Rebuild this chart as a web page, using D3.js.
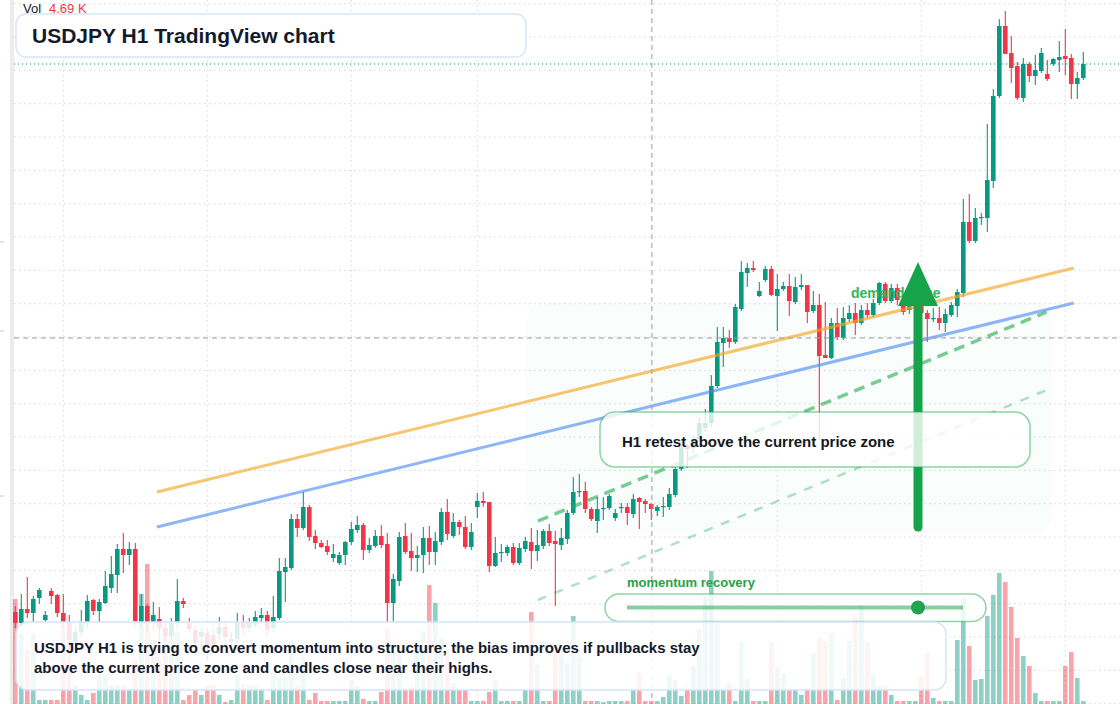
<!DOCTYPE html>
<html><head><meta charset="utf-8">
<script src="https://cdn.jsdelivr.net/npm/d3@7"></script>
<style>body{margin:0;background:#fff;}svg{display:block;font-family:"Liberation Sans",Arial,sans-serif;}</style>
</head><body><svg id="c" width="1120" height="704"></svg>
<script>
// ---- data (USDJPY H1) ----
const openP=[156.388,156.377,156.391,156.387,156.402,156.380,156.409,156.405,156.387,156.378,
156.358,156.368,156.378,156.400,156.389,156.397,156.412,156.425,156.451,156.445,
156.451,156.377,156.394,156.378,156.381,156.372,156.364,156.377,156.399,156.378,
156.370,156.363,156.367,156.365,156.366,156.373,156.358,156.361,156.378,156.372,
156.375,156.382,156.385,156.372,156.382,156.428,156.432,156.481,156.472,156.493,
156.464,156.457,156.454,156.442,156.437,156.445,156.458,156.470,156.475,156.450,
156.454,156.464,156.456,156.397,156.419,156.464,156.449,156.442,156.445,156.462,
156.448,156.458,156.488,156.464,156.478,156.473,156.453,156.493,156.499,156.498,
156.434,156.447,156.447,156.453,156.437,156.451,156.458,156.449,156.454,156.469,
156.459,156.455,156.461,156.487,156.508,156.509,156.491,156.479,156.491,156.492,
156.482,156.492,156.493,156.486,156.502,156.499,156.496,156.489,156.493,156.493,
156.505,156.531,156.554,156.552,156.561,156.572,156.577,156.614,156.657,156.662,
156.658,156.691,156.727,156.732,156.704,156.720,156.731,156.704,156.711,156.714,
156.698,156.713,156.715,156.689,156.695,156.645,156.642,156.677,156.662,156.681,
156.687,156.677,156.690,156.685,156.697,156.716,156.699,156.712,156.700,156.690,
156.694,156.700,156.687,156.681,156.682,156.677,156.685,156.694,156.707,156.778,
156.759,156.782,156.782,156.819,156.904,156.974,156.947,156.934,156.902,156.936,
156.924,156.929,156.926,156.936,156.940,156.944,156.942,156.916,156.922];
const highP=[156.394,156.406,156.423,156.404,156.412,156.389,156.412,156.406,156.406,156.385,
156.372,156.390,156.405,156.401,156.401,156.429,156.444,156.456,156.467,156.458,
156.457,156.406,156.396,156.398,156.393,156.378,156.382,156.421,156.402,156.382,
156.375,156.372,156.372,156.370,156.383,156.378,156.368,156.387,156.385,156.382,
156.389,156.392,156.389,156.404,156.442,156.442,156.486,156.486,156.508,156.495,
156.470,156.460,156.460,156.456,156.448,156.459,156.478,156.484,156.477,156.462,
156.470,156.475,156.467,156.426,156.468,156.477,156.467,156.454,156.473,156.474,
156.468,156.492,156.501,156.487,156.480,156.484,156.477,156.507,156.508,156.498,
156.463,156.456,156.455,156.457,156.457,156.463,156.472,156.470,156.471,156.476,
156.469,156.472,156.490,156.523,156.526,156.518,156.493,156.503,156.503,156.506,
156.491,156.497,156.497,156.506,156.503,156.501,156.497,156.495,156.503,156.512,
156.533,156.560,156.556,156.564,156.582,156.591,156.625,156.673,156.673,156.670,
156.696,156.739,156.737,156.739,156.718,156.734,156.734,156.726,156.718,156.726,
156.723,156.726,156.715,156.709,156.706,156.698,156.682,156.692,156.693,156.695,
156.697,156.695,156.697,156.701,156.718,156.718,156.716,156.716,156.704,156.700,
156.704,156.704,156.690,156.692,156.693,156.691,156.698,156.711,156.801,156.806,
156.792,156.787,156.876,156.911,156.981,156.989,156.964,156.938,156.942,156.938,
156.945,156.952,156.940,156.942,156.959,156.971,156.946,156.928,156.948];
const lowP=[156.372,156.374,156.382,156.377,156.396,156.376,156.396,156.383,156.372,156.345,
156.350,156.364,156.372,156.385,156.378,156.396,156.407,156.407,156.427,156.435,
156.374,156.372,156.368,156.370,156.360,156.355,156.360,156.372,156.392,156.367,
156.345,156.350,156.340,156.348,156.360,156.355,156.350,156.355,156.365,156.368,
156.372,156.378,156.364,156.368,156.380,156.398,156.430,156.463,156.470,156.459,
156.451,156.452,156.445,156.438,156.435,156.435,156.455,156.467,156.440,156.447,
156.452,156.452,156.378,156.378,156.414,156.446,156.429,156.428,156.427,156.435,
156.435,156.455,156.460,156.462,156.465,156.451,156.450,156.482,156.493,156.428,
156.433,156.438,156.444,156.435,156.435,156.448,156.431,156.439,156.451,156.454,
156.394,156.450,156.456,156.485,156.503,156.487,156.479,156.467,156.480,156.490,
156.479,156.487,156.475,156.482,156.471,156.487,156.480,156.484,156.483,156.490,
156.503,156.529,156.532,156.548,156.558,156.568,156.573,156.612,156.633,156.652,
156.656,156.689,156.713,156.728,156.703,156.718,156.704,156.669,156.709,156.684,
156.696,156.710,156.677,156.687,156.560,156.642,156.641,156.660,156.660,156.678,
156.665,156.675,156.682,156.683,156.695,156.697,156.697,156.695,156.685,156.686,
156.688,156.682,156.658,156.678,156.670,156.668,156.683,156.683,156.703,156.757,
156.757,156.775,156.768,156.812,156.902,156.946,156.917,156.900,156.898,156.918,
156.915,156.927,156.919,156.934,156.928,156.925,156.901,156.901,156.920];
const closeP=[156.377,156.391,156.387,156.401,156.410,156.385,156.404,156.387,156.378,156.360,
156.368,156.378,156.399,156.389,156.398,156.414,156.426,156.451,156.445,156.451,
156.379,156.394,156.377,156.385,156.372,156.364,156.377,156.399,156.396,156.371,
156.357,156.368,156.352,156.355,156.373,156.363,156.361,156.378,156.372,156.378,
156.383,156.385,156.370,156.383,156.429,156.433,156.481,156.472,156.493,156.463,
156.457,156.453,156.448,156.446,156.445,156.458,156.471,156.475,156.450,156.455,
156.464,156.455,156.397,156.421,156.463,156.448,156.442,156.445,156.462,156.448,
156.459,156.488,156.466,156.478,156.473,156.453,156.468,156.499,156.497,156.434,
156.447,156.448,156.453,156.437,156.452,156.459,156.449,156.455,156.469,156.457,
156.456,156.462,156.487,156.508,156.509,156.491,156.481,156.491,156.492,156.504,
156.487,156.493,156.487,156.501,156.498,156.496,156.491,156.493,156.494,156.506,
156.531,156.553,156.551,156.561,156.577,156.577,156.614,156.658,156.662,156.658,
156.693,156.728,156.732,156.730,156.709,156.731,156.705,156.711,156.714,156.699,
156.713,156.715,156.688,156.695,156.644,156.642,156.677,156.663,156.682,156.687,
156.677,156.690,156.685,156.697,156.717,156.699,156.712,156.700,156.688,156.694,
156.700,156.687,156.681,156.682,156.677,156.686,156.695,156.708,156.778,156.759,
156.782,156.783,156.820,156.904,156.974,156.946,156.932,156.902,156.936,156.924,
156.930,156.947,156.921,156.941,156.943,156.941,156.916,156.922,156.936];
const volumeK=[10.5,7.0,5.4,7.0,0.4,0.4,0.4,0.4,7.9,7.3,
1.9,0.9,0.4,1.1,2.9,2.9,1.9,1.9,1.9,1.4,
4.4,11.0,14.0,6.4,4.4,7.6,7.4,7.2,0.4,0.9,
1.4,0.9,1.9,1.9,0.9,0.2,0.4,2.9,1.9,1.9,
1.9,1.5,0.4,3.1,2.6,2.6,6.2,1.9,4.7,0.4,
1.1,0.3,0.3,0.3,0.3,0.3,2.4,1.8,0.5,0.3,
0.3,1.2,7.6,5.2,4.9,1.5,1.7,6.4,7.3,11.9,
10.1,6.6,4.9,2.1,1.4,1.4,0.3,0.3,0.3,1.2,
2.4,0.3,0.3,0.3,0.3,1.4,9.2,3.9,0.3,0.3,
5.1,5.0,4.1,8.8,4.7,0.3,0.3,0.3,0.2,0.3,
0.3,0.3,0.3,1.4,3.1,0.3,0.3,0.3,0.7,2.9,
2.4,0.8,1.7,3.8,7.4,10.7,13.3,8.1,1.4,2.1,
0.3,6.2,2.5,0.3,0.3,0.3,6.2,3.7,3.0,1.7,
1.4,0.9,1.6,5.1,6.6,6.2,7.1,0.4,2.6,6.3,
8.7,9.9,6.2,3.0,1.8,1.8,0.9,0.3,0.3,0.3,
0.3,2.8,5.1,0.6,0.3,0.3,0.3,6.4,10.6,5.8,
2.4,2.5,8.8,10.9,13.1,12.2,9.7,6.6,4.8,3.8,
1.1,0.3,0.3,0.3,0.3,3.8,5.2,2.6,0.3];
const dayBreakIdx=[8,32,56,77,127,151,175];   // vertical time grid (candle index)
const priceMarks=[156.758,156.669,156.504];      // tick marks on clipped scale at left
const trendLines=[
  {name:"resistance",i0:23.6,p0:156.508,i1:176.4,p1:156.732,color:"rgba(245,166,35,0.65)",w:3,dash:null},
  {name:"support",i0:23.6,p0:156.473,i1:176.4,p1:156.697,color:"rgba(66,133,244,0.6)",w:3,dash:null},
  {name:"channel",i0:87.1,p0:156.479,i1:171.9,p1:156.688,color:"rgba(34,170,80,0.6)",w:3.5,dash:"11 7"},
  {name:"channelLow",i0:87.1,p0:156.400,i1:171.9,p1:156.610,color:"rgba(34,170,80,0.35)",w:2.5,dash:"9 9"}
];
const demandZone={i0:85.3,i1:172.8,pTop:156.697,pBot:156.467};
const crosshair={i:106.1,p:156.662};
const titleText="USDJPY H1 TradingView chart";
const volLabel=["Vol","4.69 K"];
const noteLines=["USDJPY H1 is trying to convert momentum into structure; the bias improves if pullbacks stay",
"above the current price zone and candles close near their highs."];
const retestText="H1 retest above the current price zone";
const zoneText="demand zone";
const momentumText="momentum recovery";

// ---- scales ----
const n=openP.length;
const svg=d3.select("#c");
const x=d3.scaleLinear().domain([0,n-1]).range([15.3,1083.3]);
const y=d3.scaleLinear().domain([156.296,157.0]).range([704,0]);
const v=d3.scaleLinear().domain([0,14]).range([704,564]);
const UP="#089981",DN="#f23645";
const data=d3.range(n).map(i=>({i,o:openP[i],h:highP[i],l:lowP[i],c:closeP[i],vol:volumeK[i]}));
const bw=4.6;

svg.append("rect").attr("width",1120).attr("height",704).attr("fill","#fff");
svg.append("rect").attr("x",10).attr("y",0).attr("width",4).attr("height",704).attr("fill","#ececec");
svg.selectAll(".pm").data(priceMarks).join("line").attr("x1",0).attr("x2",4)
  .attr("y1",d=>y(d)).attr("y2",d=>y(d)).attr("stroke","#c8c8c8");

// grid
const gridP=d3.range(22).map(k=>156.9963-k/30);
const g=svg.append("g").attr("stroke","#d4d6dc").attr("stroke-width",1).attr("stroke-dasharray","1.5 3.5");
g.selectAll(".h").data(gridP).join("line").attr("x1",14).attr("x2",1120).attr("y1",d=>y(d)).attr("y2",d=>y(d));
g.selectAll(".v").data(dayBreakIdx).join("line").attr("y1",0).attr("y2",704).attr("x1",d=>x(d)).attr("x2",d=>x(d));

// demand zone
svg.append("rect").attr("x",x(demandZone.i0)).attr("y",y(demandZone.pTop))
  .attr("width",x(demandZone.i1)-x(demandZone.i0)).attr("height",y(demandZone.pBot)-y(demandZone.pTop))
  .attr("rx",18).attr("fill","rgba(34,197,94,0.028)");

// volumes
svg.selectAll(".vol").data(data).join("rect")
  .attr("x",d=>x(d.i)-bw/2).attr("width",bw).attr("y",d=>v(d.vol)).attr("height",d=>v(0)-v(d.vol))
  .attr("fill",d=>d.c>=d.o?"rgba(8,153,129,0.46)":"rgba(242,54,69,0.45)");

// candles
const cg=svg.append("g");
cg.selectAll(".wk").data(data).join("line")
  .attr("x1",d=>x(d.i)).attr("x2",d=>x(d.i)).attr("y1",d=>y(d.h)).attr("y2",d=>y(d.l))
  .attr("stroke",d=>d.c>=d.o?UP:DN).attr("stroke-width",1.1);
cg.selectAll(".bd").data(data).join("rect")
  .attr("x",d=>x(d.i)-bw/2).attr("width",bw)
  .attr("y",d=>y(Math.max(d.o,d.c))).attr("height",d=>Math.max(1.2,Math.abs(y(d.o)-y(d.c))))
  .attr("fill",d=>d.c>=d.o?UP:DN);

// trend lines
svg.selectAll(".tl").data(trendLines).join("line")
  .attr("x1",d=>x(d.i0)).attr("y1",d=>y(d.p0)).attr("x2",d=>x(d.i1)).attr("y2",d=>y(d.p1))
  .attr("stroke",d=>d.color).attr("stroke-width",d=>d.w).attr("stroke-dasharray",d=>d.dash)
  .attr("stroke-linecap","butt");

// crosshair
const ch=svg.append("g").attr("stroke","#9a9ca5").attr("stroke-width",1).attr("stroke-dasharray","5 4");
ch.append("line").attr("x1",x(crosshair.i)).attr("x2",x(crosshair.i)).attr("y1",0).attr("y2",704);
ch.append("line").attr("x1",14).attr("x2",1120).attr("y1",y(crosshair.p)).attr("y2",y(crosshair.p));

// last price line
svg.append("line").attr("x1",14).attr("x2",1120).attr("y1",y(closeP[n-1])).attr("y2",y(closeP[n-1]))
  .attr("stroke",UP).attr("stroke-width",1).attr("stroke-dasharray","1.2 2.8");

// demand zone label
svg.append("text").attr("x",851).attr("y",298).text(zoneText)
  .attr("font-size",14).attr("font-weight","bold").attr("fill","#34b45a");

// arrow
const ax=918;
svg.append("line").attr("x1",ax).attr("x2",ax).attr("y1",527).attr("y2",300)
  .attr("stroke","#16a34a").attr("stroke-width",9).attr("stroke-linecap","round");
svg.append("path").attr("d",`M${ax},262 L${ax+20},306 L${ax-20},306 Z`).attr("fill","#16a34a");

// retest box
svg.append("rect").attr("x",600).attr("y",412).attr("width",430).attr("height",55).attr("rx",15)
  .attr("fill","rgba(255,255,255,0.8)").attr("stroke","rgba(34,170,80,0.5)").attr("stroke-width",1.5);
svg.append("text").attr("x",622).attr("y",447).text(retestText)
  .attr("font-size",15).attr("font-weight","bold").attr("fill","#131722");

// momentum slider
svg.append("text").attr("x",627).attr("y",587).text(momentumText)
  .attr("font-size",13).attr("font-weight","bold").attr("fill","#22a546");
svg.append("rect").attr("x",605).attr("y",594).attr("width",381).attr("height",27.5).attr("rx",13.75)
  .attr("fill","rgba(255,255,255,0.82)").attr("stroke","rgba(34,170,80,0.5)").attr("stroke-width",1.5);
svg.append("line").attr("x1",627).attr("x2",963).attr("y1",607.5).attr("y2",607.5)
  .attr("stroke","rgba(34,170,80,0.55)").attr("stroke-width",4);
svg.append("circle").attr("cx",918).attr("cy",607.5).attr("r",7).attr("fill","#22a34f");

// note box
svg.append("rect").attr("x",16).attr("y",622).attr("width",930).attr("height",68).attr("rx",12)
  .attr("fill","rgba(255,255,255,0.86)").attr("stroke","#d6e3f8").attr("stroke-width",1.5);
svg.selectAll(".nl").data(noteLines).join("text").attr("x",34).attr("y",(d,k)=>653+k*20).text(d=>d)
  .attr("font-size",15).attr("font-weight","bold").attr("fill","#131a2b");

// title
svg.append("rect").attr("x",16).attr("y",14).attr("width",510).attr("height",43).attr("rx",10)
  .attr("fill","rgba(255,255,255,0.9)").attr("stroke","#d9e5f8").attr("stroke-width",1.5);
svg.append("text").attr("x",32).attr("y",43).text(titleText)
  .attr("font-size",21).attr("font-weight","bold").attr("fill","#131a2b");

// vol label
svg.append("text").attr("x",23).attr("y",13).attr("font-size",13).attr("fill","#131722").text(volLabel[0]);
svg.append("text").attr("x",49).attr("y",13).attr("font-size",13).attr("fill","#f23645").text(volLabel[1]);
</script></body></html>
